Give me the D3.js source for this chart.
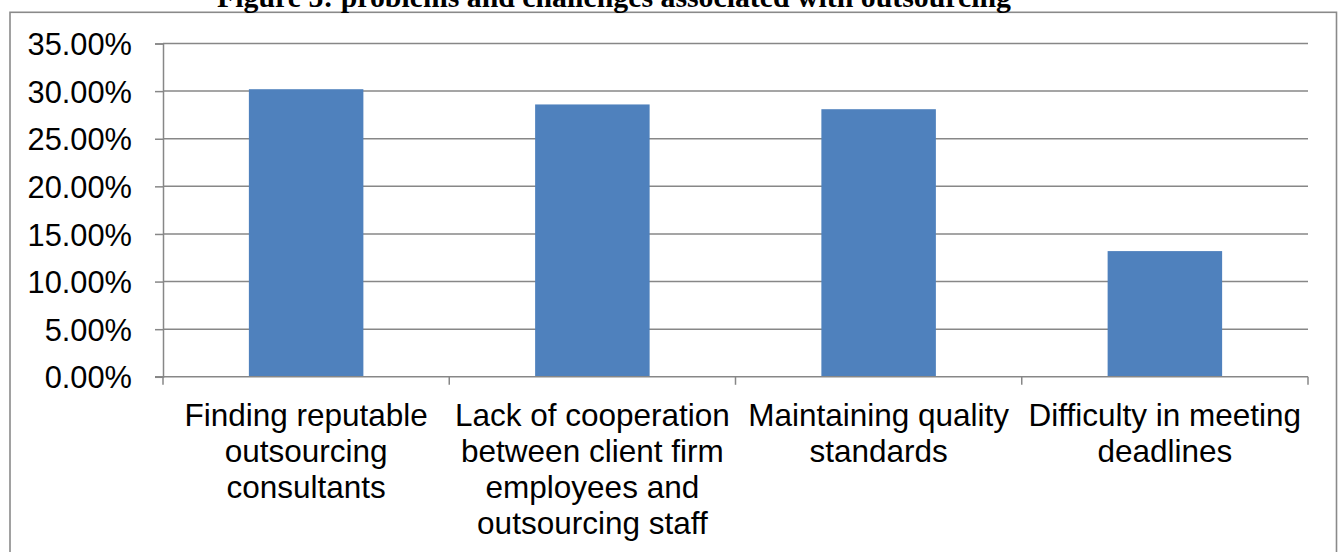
<!DOCTYPE html>
<html>
<head>
<meta charset="utf-8">
<script src="https://cdn.jsdelivr.net/npm/d3@7/dist/d3.min.js"></script>
<style>
  html, body { margin: 0; padding: 0; background: #fff; }
  svg { display: block; }
</style>
</head>
<body>
<svg id="chart" width="1341" height="552"></svg>
<script>
// Survey results: problems and challenges associated with outsourcing
const categories = [
  "Finding reputable outsourcing consultants",
  "Lack of cooperation between client firm employees and outsourcing staff",
  "Maintaining quality standards",
  "Difficulty in meeting deadlines"
];
const categoryLines = [
  ["Finding reputable", "outsourcing", "consultants"],
  ["Lack of cooperation", "between client firm", "employees and", "outsourcing staff"],
  ["Maintaining quality", "standards"],
  ["Difficulty in meeting", "deadlines"]
];
const shares = [0.302, 0.286, 0.281, 0.132];
const yTicks = [0, 0.05, 0.10, 0.15, 0.20, 0.25, 0.30, 0.35];
const titleText = "Figure 5: problems and challenges associated with outsourcing";

const svg = d3.select("#chart");
const W = 1341, H = 552;
const plot = { left: 163, right: 1308, top: 43.5, bottom: 376.8 };

const x = d3.scaleBand()
  .domain(categories)
  .range([plot.left, plot.right])
  .paddingInner(0.6)
  .paddingOuter(0.3);

const y = d3.scaleLinear()
  .domain([0, 0.35])
  .range([plot.bottom, plot.top]);

const gridColor = "#878787";
const font = "'Liberation Sans', Arial, sans-serif";

// outer chart frame (bottom edge runs past the page)
svg.append("rect")
  .attr("x", 10).attr("y", 12.3)
  .attr("width", 1326.5).attr("height", H + 20)
  .attr("fill", "none")
  .attr("stroke", "#8a8a8a")
  .attr("stroke-width", 1.6);

// title, partly above the frame
svg.append("text")
  .attr("x", 614).attr("y", 6.5)
  .attr("text-anchor", "middle")
  .attr("font-family", "'Liberation Serif', 'Times New Roman', serif")
  .attr("font-weight", "bold")
  .attr("font-size", 29.8)
  .attr("fill", "#000")
  .text(titleText);

// horizontal gridlines
svg.append("g")
  .selectAll("line")
  .data(yTicks.filter(d => d > 0))
  .join("line")
  .attr("x1", plot.left).attr("x2", plot.right)
  .attr("y1", d => y(d)).attr("y2", d => y(d))
  .attr("stroke", gridColor)
  .attr("stroke-width", 1.5);

// bars
svg.append("g")
  .selectAll("rect")
  .data(categories)
  .join("rect")
  .attr("x", d => x(d))
  .attr("width", x.bandwidth())
  .attr("y", (d, i) => y(shares[i]))
  .attr("height", (d, i) => y(0) - y(shares[i]))
  .attr("fill", "#4F81BD");

// y axis
const yAxis = d3.axisLeft(y)
  .tickValues(yTicks)
  .tickFormat(d3.format(".2%"))
  .tickSize(8)
  .tickPadding(23);
const gy = svg.append("g")
  .attr("transform", `translate(${plot.left},0)`)
  .call(yAxis);
gy.select(".domain").attr("stroke", gridColor).attr("stroke-width", 1.5);
gy.selectAll(".tick line").attr("stroke", gridColor).attr("stroke-width", 1.5);
gy.selectAll(".tick text")
  .attr("font-family", font)
  .attr("font-size", 30.8)
  .attr("fill", "#000")
  .attr("dy", "0.36em");

// x axis line with ticks at category boundaries
const boundaries = categories.map(c => x(c) - x.step() * x.paddingInner() / 2);
boundaries[0] = plot.left;
boundaries.push(plot.right);
const gx = svg.append("g");
gx.append("line")
  .attr("x1", plot.left - 8).attr("x2", plot.right)
  .attr("y1", y(0)).attr("y2", y(0))
  .attr("stroke", gridColor).attr("stroke-width", 1.5);
gx.selectAll("line.tick")
  .data(boundaries)
  .join("line")
  .attr("class", "tick")
  .attr("x1", d => d).attr("x2", d => d)
  .attr("y1", y(0)).attr("y2", y(0) + 8)
  .attr("stroke", gridColor).attr("stroke-width", 1.5);

// category labels
const labels = svg.append("g")
  .attr("font-family", font)
  .attr("font-size", 31.5)
  .attr("fill", "#000")
  .attr("text-anchor", "middle");
categories.forEach((c, i) => {
  const t = labels.append("text")
    .attr("x", x(c) + x.bandwidth() / 2)
    .attr("y", 425.5);
  categoryLines[i].forEach((line, j) => {
    t.append("tspan")
      .attr("x", x(c) + x.bandwidth() / 2)
      .attr("dy", j === 0 ? 0 : 36)
      .text(line);
  });
});
</script>
</body>
</html>
